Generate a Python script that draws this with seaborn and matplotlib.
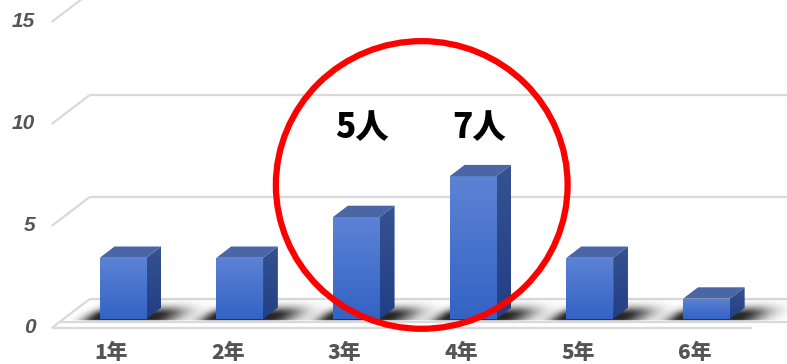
import seaborn as sns
import matplotlib.pyplot as plt
import pandas as pd
import numpy as np
from matplotlib.patches import Polygon, Ellipse
from matplotlib.colors import LinearSegmentedColormap

# データ
grades = ['1年', '2年', '3年', '4年', '5年', '6年']
counts = [3, 3, 5, 7, 3, 1]
y_ticks = [0, 5, 10, 15]
note_grades = ['3年', '4年']
note_labels = ['5人', '7人']

df = pd.DataFrame({'学年': grades, '人数': counts})

sns.set_style('white')
plt.rcParams['font.family'] = ['Noto Sans CJK JP', 'DejaVu Sans']

fig = plt.figure(figsize=(7.87, 3.64), dpi=100)
ax = fig.add_axes([0, 0, 1, 1])
ax.axis('off')

sns.barplot(data=df, x='学年', y='人数', color='#4a72cc', width=0.4,
            saturation=1, ax=ax, zorder=4)
bars = list(ax.patches)

# 3D風の奥行き (データ単位)
DX, DY = 0.326, 1.42   # 床の手前 -> 奥の壁
T0 = 0.31              # 棒の前面の位置
BD = 0.39              # 棒の奥行き
XL, XR = -0.51, 5.49   # 床の左右
XFAR = XR + 2


def floor_pt(x, t, v=0.0):
    return (x + (t - T0) * DX, v + (t - T0) * DY)


def seg(p1, p2, **kw):
    ax.plot([p1[0], p2[0]], [p1[1], p2[1]], **kw)


# 床と目盛線
line_kw = dict(color='#d9d9d9', lw=1.6, zorder=1, solid_capstyle='butt')
seg(floor_pt(XL, 1), floor_pt(XFAR, 1), **line_kw)
seg(floor_pt(XL, 1), floor_pt(XL, 0), **line_kw)
seg(floor_pt(XL, 0), floor_pt(XR, 0), **line_kw)
seg(floor_pt(XL, 0.22), floor_pt(XFAR, 0.22), **line_kw)
for v in y_ticks[1:]:
    seg(floor_pt(XL, 0, v), floor_pt(XL, 1, v), **line_kw)
    seg(floor_pt(XL, 1, v), floor_pt(XFAR, 1, v), **line_kw)

# y 目盛ラベル
for v in y_ticks:
    x, y = floor_pt(XL, 0, v)
    ax.text(x - 0.14, y, str(v), ha='right', va='center', fontsize=15,
            fontweight='bold', fontstyle='italic', color='#555555',
            family='Liberation Sans')

# x 目盛ラベル
for i, g in enumerate(grades):
    x, _ = floor_pt(i, 0)
    ax.text(x, -1.67, g, ha='center', va='center', fontsize=15,
            fontweight='heavy', color='#555555')


# 影 (床の上のぼかし)
def soft(d, s):
    return np.exp(-(np.clip(d, 0, None) / s) ** 2)


for p in bars:
    x0, w = p.get_x(), p.get_width()
    xs = np.linspace(x0 - 0.5, x0 + w + 0.9, 320)
    y_lo, y_hi = floor_pt(0, 0.2)[1], floor_pt(0, 1.0)[1]
    ys = np.linspace(y_lo, y_hi, 90)
    X, Y = np.meshgrid(xs, ys)
    T = T0 + Y / DY
    XP = X - (T - T0) * DX
    fx = soft(x0 - 0.02 - XP, 0.12) * soft(XP - (x0 + w + 0.05), 0.22)
    ft = soft(0.27 - T, 0.015) * soft(T - 0.42, 0.28)
    rgba = np.zeros(X.shape + (4,))
    rgba[..., 3] = 0.85 * fx * ft
    ax.imshow(rgba, extent=(xs[0], xs[-1], y_lo, y_hi), origin='lower',
              aspect='auto', interpolation='bilinear', zorder=2)

# 棒の前面・側面・上面
front_cmap = LinearSegmentedColormap.from_list('front', ['#3463c5', '#5c83d4'])
side_cmap = LinearSegmentedColormap.from_list('side', ['#223f86', '#36528f'])
grad = np.linspace(0, 1, 100).reshape(-1, 1)
bx, by = BD * DX, BD * DY
for p in bars:
    x0, w, h = p.get_x(), p.get_width(), p.get_height()
    p.set_edgecolor('none')
    im = ax.imshow(grad, extent=(x0, x0 + w, 0, h), origin='lower',
                   cmap=front_cmap, aspect='auto', zorder=4)
    im.set_clip_path(p)
    side = Polygon([(x0 + w, 0), (x0 + w + bx, by), (x0 + w + bx, h + by), (x0 + w, h)],
                   closed=True, fc='none', ec='none', zorder=3)
    ax.add_patch(side)
    im2 = ax.imshow(grad, extent=(x0 + w, x0 + w + bx, 0, h + by), origin='lower',
                    cmap=side_cmap, aspect='auto', zorder=3)
    im2.set_clip_path(side)
    top = Polygon([(x0, h), (x0 + w, h), (x0 + w + bx, h + by), (x0 + bx, h + by)],
                  closed=True, fc='#4a66a5', ec='none', zorder=4)
    ax.add_patch(top)

# 注記
for g, lab in zip(note_grades, note_labels):
    i = grades.index(g)
    ax.text(i + 0.05, 9.4, lab, ha='center', va='center', fontsize=24,
            fontweight='heavy', color='black', zorder=6)

idx = [grades.index(g) for g in note_grades]
ax.add_patch(Ellipse((np.mean(idx) + 0.06, 6.57), 2.50, 14.1, fill=False,
                     ec='#ff0000', lw=4.5, zorder=6))

ax.set_xlim(-1.054, 5.690)
ax.set_ylim(-2.206, 15.637)

plt.savefig('out.png', dpi=100)
